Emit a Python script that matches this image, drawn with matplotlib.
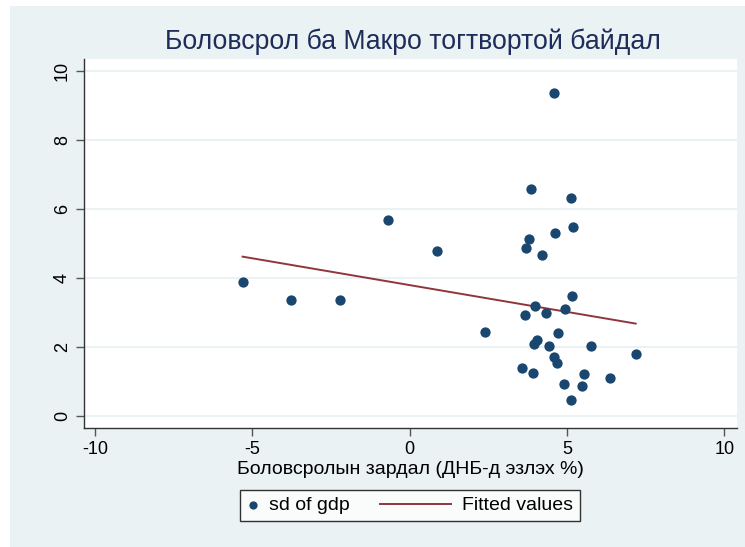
import numpy as np
import matplotlib.pyplot as plt
from matplotlib.patches import Rectangle
from matplotlib.lines import Line2D
from matplotlib.legend_handler import HandlerBase

# education spending (% of GDP) vs sd of gdp
edu_spend = [-5.31, -3.77, -2.22, -0.69, 0.86, 4.60,
             3.86, 5.14, 5.19, 4.63, 3.79, 3.71, 4.21,
             5.16, 3.99, 4.94, 4.33, 3.65, 2.40, 4.70,
             4.06, 3.95, 4.43, 5.75, 7.18, 4.57, 4.69,
             3.58, 3.93, 5.53, 6.38, 4.91, 5.48, 5.14]
sd_gdp = [3.88, 3.36, 3.36, 5.69, 4.78, 9.35,
          6.57, 6.31, 5.48, 5.30, 5.12, 4.85, 4.67,
          3.48, 3.19, 3.08, 2.97, 2.91, 2.43, 2.41,
          2.19, 2.08, 2.03, 2.03, 1.80, 1.71, 1.52,
          1.37, 1.25, 1.21, 1.08, 0.91, 0.85, 0.45]

x = np.array(edu_spend)
y = np.array(sd_gdp)
b, a = np.polyfit(x, y, 1)
xfit = np.array([x.min(), x.max()])
yfit = a + b * xfit

navy = '#1a476f'
maroon = '#90353b'


# line handle that reaches further left than the (short) handle box
class LongLine(HandlerBase):
    def create_artists(self, legend, orig_handle, xdescent, ydescent,
                       width, height, fontsize, trans):
        yy = height / 2 - ydescent
        x1 = width - xdescent
        ln = Line2D([x1 - 3.66 * fontsize, x1], [yy, yy], color=maroon,
                    lw=1.4, transform=trans)
        return [ln]


plt.rcParams['font.family'] = ['Liberation Sans', 'DejaVu Sans']
plt.rcParams['axes.unicode_minus'] = False
bg = '#EAF2F3'

fig = plt.figure(figsize=(7.45, 5.47), dpi=100)
fig.patch.set_facecolor('white')
fig.patches.append(Rectangle((10/745, 0), 1, 1 - 6/547, transform=fig.transFigure,
                             facecolor=bg, edgecolor='none', zorder=-10))

ax = fig.add_axes([84/745, 1 - 428/547, (737-84)/745, (428-59)/547])
ax.set_facecolor('white')

sc = ax.scatter(x, y, s=55, color=navy, zorder=3, label='sd of gdp', linewidths=0)
fl, = ax.plot(xfit, yfit, color=maroon, lw=1.4, zorder=2, label='Fitted values')

ax.set_xlim(-10.35, 10.4)
ax.set_ylim(-0.36, 10.35)
ax.set_xticks([-10, -5, 0, 5, 10])
ax.set_yticks([0, 2, 4, 6, 8, 10])
ax.grid(axis='y', color=bg, lw=1.5)
ax.set_axisbelow(True)
for s in ['top', 'right']:
    ax.spines[s].set_visible(False)
for s in ['left', 'bottom']:
    ax.spines[s].set_color('#333333')
    ax.spines[s].set_linewidth(1.0)
ax.tick_params(direction='out', length=6, width=1, color='#555555',
               labelsize=13, labelcolor='black')
plt.setp(ax.get_yticklabels(), rotation=90, va='center')

ax.set_xlabel('Боловсролын зардал (ДНБ-д эзлэх %)', fontsize=14, labelpad=2)
fig.text(412.5/745, 1 - 42/547, 'Боловсрол ба Макро тогтвортой байдал',
         ha='center', va='center', fontsize=19.2, color='#1e2d5a')

leg = ax.legend(handles=[sc, fl], loc='center',
                bbox_to_anchor=(410/745, 1 - 505.5/547),
                bbox_transform=fig.transFigure, ncol=2, fontsize=14,
                frameon=True, fancybox=False, edgecolor='black',
                handlelength=0.6, columnspacing=4.6, borderpad=0.35,
                handletextpad=0.54, markerscale=0.8, borderaxespad=0,
                handler_map={fl: LongLine()})
leg.get_frame().set_linewidth(1.0)

plt.savefig('out.png', dpi=100, facecolor=fig.get_facecolor())
